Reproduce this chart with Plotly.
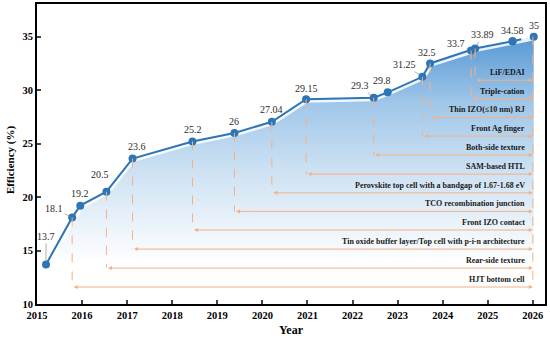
import plotly.graph_objects as go

# ---------------- data ----------------
years = [2015.20, 2015.78, 2015.96, 2016.54, 2017.12, 2018.45, 2019.38, 2020.21,
         2020.97, 2022.47, 2022.78, 2023.55, 2023.72, 2024.63, 2024.72, 2025.55, 2026.02]
efficiency = [13.7, 18.1, 19.2, 20.5, 23.6, 25.2, 26, 27.04,
              29.15, 29.3, 29.8, 31.25, 32.5, 33.7, 33.89, 34.58, 35]
value_labels = ["13.7", "18.1", "19.2", "20.5", "23.6", "25.2", "26", "27.04",
                "29.15", "29.3", "29.8", "31.25", "32.5", "33.7", "33.89", "34.58", "35"]

milestone_names = ["HJT bottom cell", "Rear-side texture",
                   "Tin oxide buffer layer/Top cell with p-i-n architecture",
                   "Front IZO contact", "TCO recombination junction",
                   "Perovskite top cell with a bandgap of 1.67-1.68 eV",
                   "SAM-based HTL", "Both-side texture", "Front Ag finger",
                   "Thin IZO(≤10 nm) RJ", "Triple-cation", "LiF/EDAI"]
milestone_point = [1, 3, 4, 5, 6, 7, 8, 9, 11, 12, 13, 14]  # index into years

x_ticks = [2015, 2016, 2017, 2018, 2019, 2020, 2021, 2022, 2023, 2024, 2025, 2026]
y_ticks = [10, 15, 20, 25, 30, 35]

# ---------------- layout helpers (positions / styles) ----------------
row_levels = [11.59, 13.36, 15.14, 16.92, 18.66, 20.40, 22.15, 23.93, 25.70, 27.45, 29.19, 30.93]
arrow_end_x = 2026.0
text_end_x = 2025.88
# (dx, dy, leader) pixel offsets of value labels
label_offsets = [(0, -28, True), (-18, -9, True), (0, -12, False), (-6, -17, False),
                 (4, -12, False), (0, -12, False), (0, -11, False), (0, -12, False),
                 (0, -11, False), (-14, -12, True), (-6, -12, False), (-18, -12, True),
                 (-3, -11, False), (-15, -7, True), (7, -14, True), (0, -11, False),
                 (0, -11, False)]

BLUE = "#2E75B6"
ORANGE = "#F4B183"
SERIF = "Liberation Serif"

fig = go.Figure()

# baseline for gradient fill
fig.add_trace(go.Scatter(x=[years[0], years[-1]], y=[10, 10], mode="lines",
                         line=dict(width=0), hoverinfo="skip", showlegend=False))
fig.add_trace(go.Scatter(
    x=years, y=efficiency, mode="lines", line=dict(width=0), fill="tonexty",
    fillgradient=dict(type="vertical",
                      colorscale=[[0, "rgba(255,255,255,1)"], [0.15, "rgba(255,255,255,1)"],
                                  [0.5, "rgb(205,225,243)"], [0.75, "rgb(160,199,233)"],
                                  [1, "rgb(88,152,212)"]]),
    hoverinfo="skip", showlegend=False))

shapes = []
annotations = []

# vertical dashed connectors & milestone arrows
for name, idx, lvl in zip(milestone_names, milestone_point, row_levels):
    shapes.append(dict(type="line", xref="x", yref="y", x0=years[idx], x1=years[idx],
                       y0=efficiency[idx], y1=lvl,
                       line=dict(color=ORANGE, width=1, dash="dash")))
    annotations.append(dict(x=arrow_end_x, y=lvl, ax=years[idx], ay=lvl,
                            xref="x", yref="y", axref="x", ayref="y", text="",
                            showarrow=True, arrowhead=2, arrowside="end+start",
                            arrowsize=0.8, arrowwidth=1, arrowcolor=ORANGE,
                            standoff=0, startstandoff=0))
    annotations.append(dict(x=text_end_x, y=lvl, xref="x", yref="y", text=name,
                            showarrow=False, xanchor="right", yanchor="bottom", yshift=1,
                            font=dict(family=SERIF, size=8, color="#1a1a1a", weight="bold")))

# right vertical dashed line from the last point
shapes.append(dict(type="line", xref="x", yref="y", x0=arrow_end_x, x1=arrow_end_x,
                   y0=efficiency[-1], y1=row_levels[0],
                   line=dict(color=ORANGE, width=1, dash="dash")))

# white glow under the line
fig.add_trace(go.Scatter(x=years, y=efficiency, mode="lines",
                         line=dict(color="rgba(255,255,255,0.85)", width=7),
                         hoverinfo="skip", showlegend=False))
# main line (solid part, dashed last segment)
fig.add_trace(go.Scatter(x=years[:-1], y=efficiency[:-1], mode="lines+markers",
                         line=dict(color=BLUE, width=2),
                         marker=dict(size=8, color=BLUE), showlegend=False))
fig.add_trace(go.Scatter(x=years[-2:], y=efficiency[-2:], mode="lines+markers",
                         line=dict(color=BLUE, width=2, dash="dash"),
                         marker=dict(size=8, color=BLUE), showlegend=False))

# value labels
for xv, yv, lab, (dx, dy, leader) in zip(years, efficiency, value_labels, label_offsets):
    if leader:
        annotations.append(dict(x=xv, y=yv, xref="x", yref="y", text=lab,
                                showarrow=True, arrowhead=0, arrowwidth=0.7,
                                arrowcolor="#8c8c8c", ax=dx, ay=dy, standoff=3,
                                font=dict(family=SERIF, size=10, color="#2b2b2b")))
    else:
        annotations.append(dict(x=xv, y=yv, xref="x", yref="y", text=lab,
                                showarrow=False, xshift=dx, yshift=-dy,
                                font=dict(family=SERIF, size=10, color="#2b2b2b")))

# axis titles
annotations.append(dict(text="Year", xref="paper", yref="paper", x=0.5, y=0,
                        yshift=-26, showarrow=False, xanchor="center", yanchor="middle",
                        font=dict(family=SERIF, size=12, color="black", weight="bold")))
annotations.append(dict(text="Efficiency (%)", xref="paper", yref="paper", x=0, y=0.48,
                        xshift=-27, showarrow=False, textangle=-90,
                        xanchor="center", yanchor="middle",
                        font=dict(family=SERIF, size=11, color="black", weight="bold")))

fig.update_layout(
    width=550, height=338,
    margin=dict(l=37, r=5, t=4, b=34),
    paper_bgcolor="white", plot_bgcolor="white",
    shapes=shapes, annotations=annotations,
    font=dict(family=SERIF, color="black"),
)
fig.update_xaxes(range=[2015, 2026.27], tickvals=x_ticks, ticks="inside", ticklen=4,
                 tickwidth=1.5, showgrid=False, zeroline=False, showline=True,
                 linecolor="black", linewidth=2, mirror=True, automargin=False,
                 tickfont=dict(family=SERIF, size=10.5, weight="bold"))
fig.update_yaxes(range=[10, 38.06], tickvals=y_ticks, ticks="inside", ticklen=4,
                 tickwidth=1.5, showgrid=False, zeroline=False, showline=True,
                 linecolor="black", linewidth=2, mirror=True, automargin=False,
                 tickfont=dict(family=SERIF, size=10.5, weight="bold"))

fig.write_html("out.html", config={"displayModeBar": False},
               post_script="document.body.style.margin='0';document.body.style.overflow='hidden';")
